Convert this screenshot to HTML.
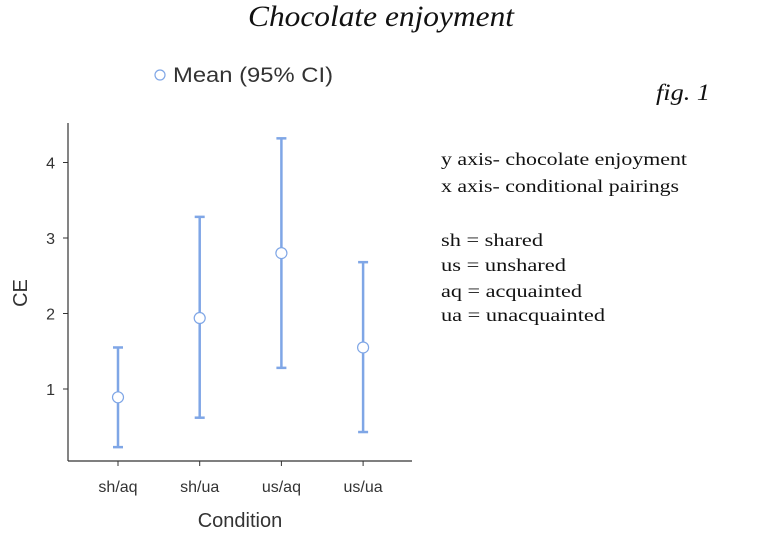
<!DOCTYPE html>
<html><head><meta charset="utf-8"><style>
body{margin:0;background:#fff;width:775px;height:537px;overflow:hidden}
svg{display:block}
.serif{font-family:"Liberation Serif",serif}
.sans{font-family:"Liberation Sans",sans-serif}
</style></head><body>
<svg id="chart" width="775" height="537" xmlns="http://www.w3.org/2000/svg">
<text class="serif" x="248" y="26" font-size="30" font-style="italic" textLength="266" lengthAdjust="spacingAndGlyphs" fill="#111">Chocolate enjoyment</text>
<g>
<circle cx="160" cy="75" r="5" fill="#fff" stroke="#7fa6e6" stroke-width="1.2"/>
<text class="sans" x="173" y="82" font-size="21" textLength="160" lengthAdjust="spacingAndGlyphs" fill="#333">Mean (95% CI)</text>
</g>
<text class="serif" x="656" y="100" font-size="23" font-style="italic" textLength="54" lengthAdjust="spacingAndGlyphs" fill="#111">fig. 1</text>
<g class="serif" font-size="18" fill="#111">
<text x="441" y="165" textLength="246" lengthAdjust="spacingAndGlyphs">y axis-  chocolate enjoyment</text>
<text x="441" y="192" textLength="238" lengthAdjust="spacingAndGlyphs">x axis-  conditional pairings</text>
<text x="441" y="246" textLength="102" lengthAdjust="spacingAndGlyphs">sh = shared</text>
<text x="441" y="271" textLength="125" lengthAdjust="spacingAndGlyphs">us = unshared</text>
<text x="441" y="297" textLength="141" lengthAdjust="spacingAndGlyphs">aq = acquainted</text>
<text x="441" y="321" textLength="164" lengthAdjust="spacingAndGlyphs">ua = unacquainted</text>
</g>
<line x1="68" y1="123" x2="68" y2="461" stroke="#333" stroke-width="1.2"/>
<line x1="68" y1="461" x2="412" y2="461" stroke="#333" stroke-width="1.2"/>
<g id="yticks"></g><g id="xticks"></g><g id="marks"></g>
<text class="sans" x="240" y="527" font-size="20" text-anchor="middle" fill="#333">Condition</text>
<text class="sans" transform="translate(27,293) rotate(-90)" font-size="20" text-anchor="middle" fill="#333">CE</text>
</svg>
<script>
const categories=["sh/aq","sh/ua","us/aq","us/ua"];
const means=[0.89,1.94,2.80,1.55];
const lower=[0.23,0.62,1.28,0.43];
const upper=[1.55,3.28,4.32,2.68];
const yTicks=[1,2,3,4];
const NS="http://www.w3.org/2000/svg";
function y(v){return 389-(v-1)*75.5;}
function x(i){return 118+i*81.7;}
function mk(t,a,p){const e=document.createElementNS(NS,t);for(const k in a)e.setAttribute(k,a[k]);p.appendChild(e);return e;}
const yt=document.getElementById('yticks'),xt=document.getElementById('xticks'),mg=document.getElementById('marks');
yTicks.forEach(v=>{
const l=mk('line',{x1:63,x2:68,y1:y(v),y2:y(v),stroke:'#333'},yt);


const t=mk('text',{x:55,y:y(v)+6,'font-size':16,'text-anchor':'end',fill:'#333','font-family':'Liberation Sans, sans-serif'},yt);
t.textContent=v;


});
categories.forEach((c,i)=>{
const l=mk('line',{x1:x(i),x2:x(i),y1:461,y2:466,stroke:'#333'},xt);


const t=mk('text',{x:x(i),y:492,'font-size':16,'text-anchor':'middle',fill:'#333','font-family':'Liberation Sans, sans-serif'},xt);
t.textContent=c;


const g=mk('g',{stroke:'#7fa6e6','stroke-width':2.5},mg);


mk('line',{x1:x(i),x2:x(i),y1:y(lower[i]),y2:y(upper[i])},g);
mk('line',{x1:x(i)-5,x2:x(i)+5,y1:y(lower[i]),y2:y(lower[i])},g);
mk('line',{x1:x(i)-5,x2:x(i)+5,y1:y(upper[i]),y2:y(upper[i])},g);
const p=mk('circle',{cx:x(i),cy:y(means[i]),r:5.5,fill:'#fff',stroke:'#7fa6e6','stroke-width':1.2},mg);


});
</script>
</body></html>
